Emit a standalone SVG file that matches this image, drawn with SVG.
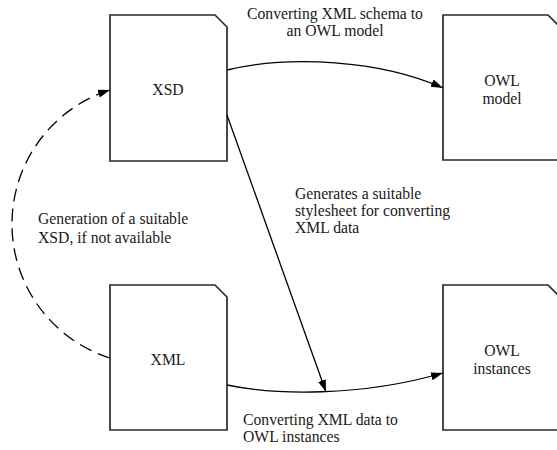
<svg xmlns="http://www.w3.org/2000/svg" width="557" height="450" viewBox="0 0 557 450">
  <style>
    .doc { fill: #ffffff; stroke: #2a2a2a; stroke-width: 1.7; stroke-linejoin: miter; }
    .lbl { font-family: "Liberation Serif", "Times New Roman", serif; font-size: 15.7px; fill: #1a1a1a; }
    .mid { text-anchor: middle; }
    .edge { fill: none; stroke: #000000; stroke-width: 1.3; }
    .dash { stroke-dasharray: 13 7; }
  </style>
  <defs>
    <marker id="arrow" markerUnits="userSpaceOnUse" markerWidth="13" markerHeight="9" refX="12" refY="4" orient="auto">
      <path d="M0,0 L12,4 L0,8 Z" fill="#000000"/>
    </marker>
  </defs>

  <rect width="557" height="450" fill="#ffffff"/>

  <!-- document shapes with a clipped top-right corner -->
  <g id="xsd">
    <path class="doc" d="M110,15 H215 L227,27 V161 H110 Z"/>
    <text class="lbl mid" x="168" y="95">XSD</text>
  </g>
  <g id="xml">
    <path class="doc" d="M110,285 H215 L227,297 V430 H110 Z"/>
    <text class="lbl mid" x="168" y="365">XML</text>
  </g>
  <g id="owl-model">
    <path class="doc" d="M443,15 H548 L560,27 V160 H443 Z"/>
    <text class="lbl mid" x="502" y="86">OWL</text>
    <text class="lbl mid" x="502" y="104">model</text>
  </g>
  <g id="owl-instances">
    <path class="doc" d="M443,285 H548 L560,297 V430 H443 Z"/>
    <text class="lbl mid" x="502" y="356">OWL</text>
    <text class="lbl mid" x="502" y="374">instances</text>
  </g>

  <!-- connectors -->
  <g id="connectors">
    <path class="edge" d="M227,70 C290,55 380,60 443,88" marker-end="url(#arrow)"/>
    <path class="edge" d="M227,115 L326,392" marker-end="url(#arrow)"/>
    <path class="edge" d="M227,385 C275,395 360,397 443,373" marker-end="url(#arrow)"/>
    <path class="edge dash" d="M110,358 A140.6,140.6 0 0 1 110,90" marker-end="url(#arrow)"/>
  </g>

  <!-- connector labels -->
  <g id="labels">
    <text class="lbl mid" x="335" y="19">Converting XML schema to</text>
    <text class="lbl mid" x="335" y="36">an OWL model</text>
    <text class="lbl" x="295" y="199">Generates a suitable</text>
    <text class="lbl" x="295" y="216">stylesheet for converting</text>
    <text class="lbl" x="295" y="233">XML data</text>
    <text class="lbl" x="38" y="224">Generation of a suitable</text>
    <text class="lbl" x="38" y="243">XSD, if not available</text>
    <text class="lbl" x="243" y="425">Converting XML data to</text>
    <text class="lbl" x="243" y="442">OWL instances</text>
  </g>
</svg>
